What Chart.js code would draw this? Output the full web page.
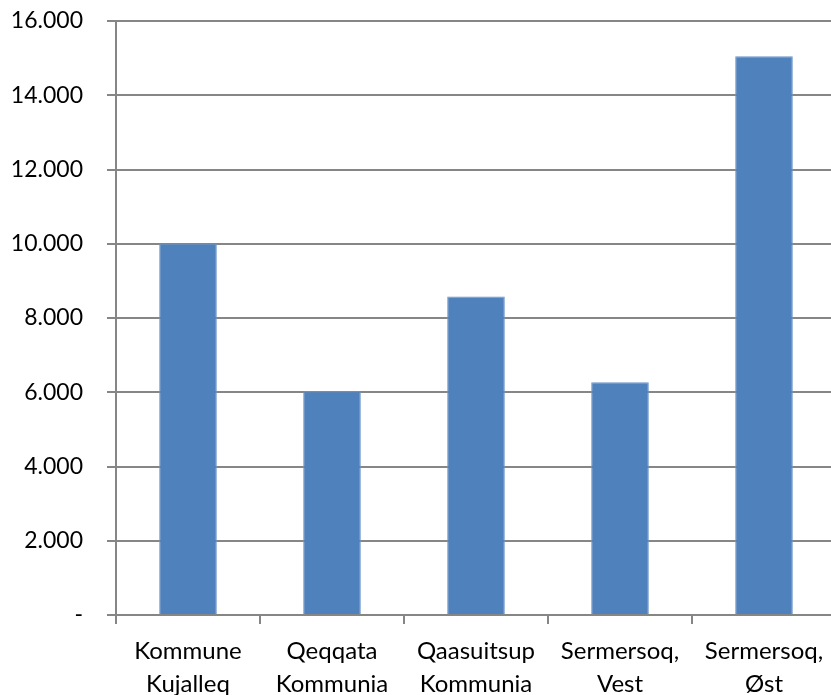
<!DOCTYPE html>
<html>
<head>
<meta charset="utf-8">
<script src="https://cdn.jsdelivr.net/npm/chart.js@4"></script>
<style>
  html, body { margin: 0; padding: 0; background: #fff; overflow: hidden; }
  #wrap { width: 840px; height: 695px; }
</style>
</head>
<body>
<div id="wrap"><canvas id="chart" width="840" height="695"></canvas></div>
<script>
const categories = [
    ['Kommune', 'Kujalleq'],
    ['Qeqqata', 'Kommunia'],
    ['Qaasuitsup', 'Kommunia'],
    ['Sermersoq,', 'Vest'],
    ['Sermersoq,', 'Øst']
];
const values = [10000, 6030, 8580, 6270, 15050];
const yTicks = [0, 2000, 4000, 6000, 8000, 10000, 12000, 14000, 16000];

const fmt = v => v === 0 ? '-' : v.toLocaleString('de-DE');

new Chart(document.getElementById('chart').getContext('2d'), {
    type: 'bar',
    data: {
        labels: categories,
        datasets: [{
            data: values,
            backgroundColor: '#4f81bd',
            borderColor: '#6b95c8',
            borderWidth: 1,
            barPercentage: 0.4,
            categoryPercentage: 1
        }]
    },
    options: {
        responsive: false,
        animation: false,
        layout: { padding: { top: 21, right: 4, left: 0, bottom: 0 } },
        plugins: {
            legend: { display: false },
            tooltip: { enabled: false }
        },
        scales: {
            x: {
                offset: true,
                grid: {
                    offset: true,
                    drawOnChartArea: false,
                    drawTicks: true,
                    tickLength: 9,
                    color: '#868686',
                    lineWidth: 2
                },
                border: { color: '#868686', width: 2 },
                ticks: {
                    color: '#000',
                    autoSkip: false,
                    maxRotation: 0,
                    padding: 11,
                    font: { family: 'Lato', size: 24, lineHeight: 1.38 }
                },
                afterFit: s => { s.height = 80; s.paddingLeft = 0; s.paddingRight = 0; }
            },
            y: {
                min: 0,
                max: 16000,
                afterBuildTicks: s => { s.ticks = yTicks.map(v => ({ value: v })); },
                grid: {
                    color: '#868686',
                    lineWidth: 2,
                    tickLength: 9
                },
                border: { color: '#868686', width: 2 },
                ticks: {
                    color: '#000',
                    padding: 24,
                    callback: v => fmt(v),
                    font: { family: 'Lato', size: 23 }
                },
                afterFit: s => { s.width = 116; s.paddingTop = 0; s.paddingBottom = 0; }
            }
        }
    }
});
</script>
</body>
</html>
